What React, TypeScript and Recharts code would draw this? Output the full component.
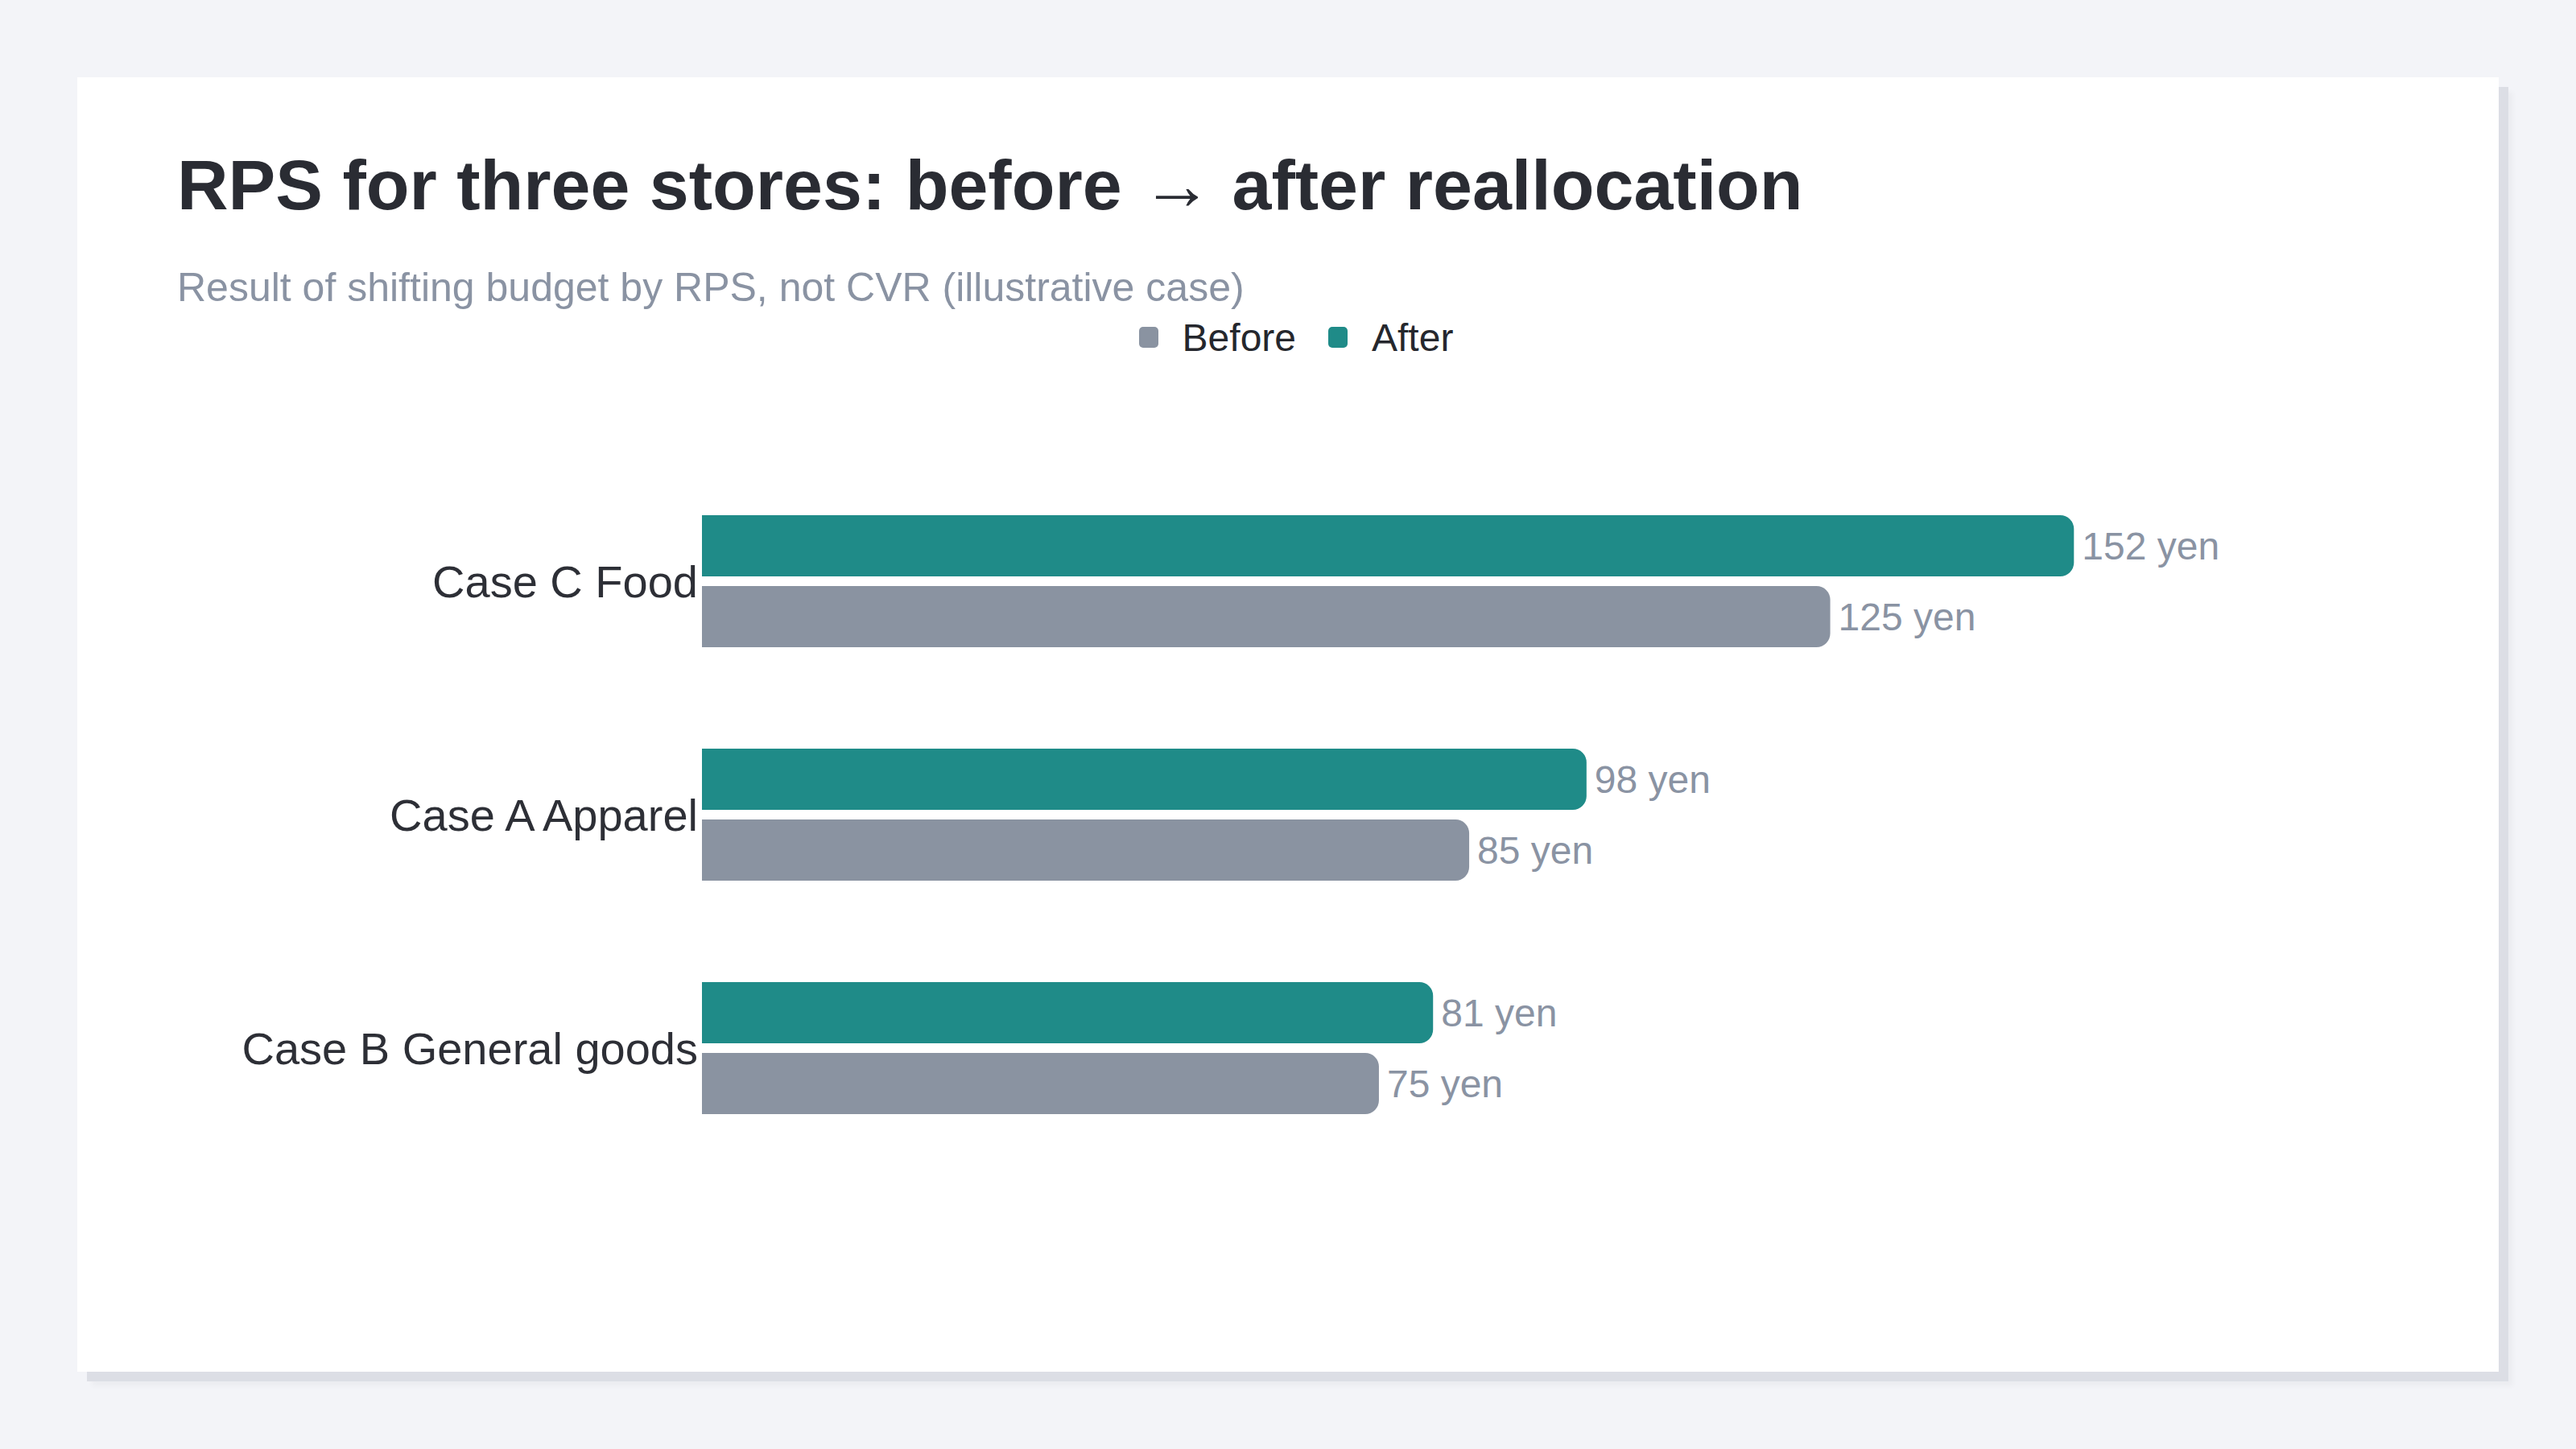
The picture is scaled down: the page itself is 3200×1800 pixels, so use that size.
import React from "react";
import { BarChart, Bar, XAxis, YAxis, Legend, LabelList } from "recharts";

const categories = ["Case C Food", "Case A Apparel", "Case B General goods"];
const beforeValues = [125, 85, 75];
const afterValues = [152, 98, 81];
const legendOrder = ["Before", "After"];

const FONT = '"Liberation Sans", Arial, Helvetica, sans-serif';
const TEAL = "#1f8b88";
const GRAY = "#8a93a1";

const data = categories.map((name, i) => ({
  name,
  before: beforeValues[i],
  after: afterValues[i],
}));

interface LegendItem {
  value?: string;
  color?: string;
}

const LegendContent = ({ payload }: { payload?: LegendItem[] }) => {
  const items = [...(payload ?? [])].sort(
    (a, b) => legendOrder.indexOf(a.value ?? "") - legendOrder.indexOf(b.value ?? "")
  );
  return (
    <div style={{ display: "flex", justifyContent: "center", alignItems: "center", height: 50 }}>
      {items.map((it, i) => (
        <div key={i} style={{ display: "flex", alignItems: "center", marginLeft: i ? 40 : 0 }}>
          <span
            style={{ width: 24, height: 26, borderRadius: 5, background: it.color, display: "inline-block" }}
          />
          <span style={{ marginLeft: 30, fontSize: 48, color: "#25272d", fontFamily: FONT }}>{it.value}</span>
        </div>
      ))}
    </div>
  );
};

export default function App() {
  return (
    <div
      style={{
        position: "absolute",
        left: 0,
        top: 0,
        width: 3200,
        height: 1800,
        background: "#f3f4f8",
        fontFamily: FONT,
      }}
    >
      <style>{"body{margin:0}"}</style>
      <div
        style={{
          position: "absolute",
          left: 96,
          top: 96,
          width: 3008,
          height: 1608,
          background: "#ffffff",
          boxShadow: "12px 12px 0 #dcdee5, 18px 18px 6px rgba(0,0,0,0.03)",
        }}
      >
        <div
          style={{
            position: "absolute",
            left: 124,
            top: 90,
            fontSize: 88,
            lineHeight: "88px",
            fontWeight: 700,
            color: "#2a2c33",
            whiteSpace: "nowrap",
          }}
        >
          RPS for three stores: before → after reallocation
        </div>
        <div
          style={{
            position: "absolute",
            left: 124,
            top: 236,
            fontSize: 50,
            lineHeight: "50px",
            color: "#8a93a3",
            whiteSpace: "nowrap",
          }}
        >
          Result of shifting budget by RPS, not CVR (illustrative case)
        </div>
        <div style={{ position: "absolute", left: 124, top: 284 }}>
          <BarChart
            width={2760}
            height={1127}
            data={data}
            layout="vertical"
            barSize={76}
            barGap={12}
            margin={{ top: 147, right: 314, bottom: 60, left: 0 }}
          >
            <XAxis type="number" domain={[0, 160]} hide />
            <YAxis
              type="category"
              dataKey="name"
              width={652}
              axisLine={false}
              tickLine={false}
              tickSize={0}
              tickMargin={5}
              tick={{ fontSize: 56, fill: "#2d2f36", fontFamily: FONT }}
            />
            <Legend
              verticalAlign="top"
              content={<LegendContent />}
              wrapperStyle={{ left: 10, width: 2760, top: 14 }}
            />
            <Bar dataKey="after" name="After" fill={TEAL} radius={[0, 17, 17, 0]} isAnimationActive={false}>
              <LabelList
                dataKey="after"
                position="right"
                offset={10}
                formatter={(v: number) => `${v} yen`}
                style={{ fontSize: 48, fill: "#8a93a3", fontFamily: FONT }}
              />
            </Bar>
            <Bar dataKey="before" name="Before" fill={GRAY} radius={[0, 17, 17, 0]} isAnimationActive={false}>
              <LabelList
                dataKey="before"
                position="right"
                offset={10}
                formatter={(v: number) => `${v} yen`}
                style={{ fontSize: 48, fill: "#8a93a3", fontFamily: FONT }}
              />
            </Bar>
          </BarChart>
        </div>
      </div>
    </div>
  );
}
